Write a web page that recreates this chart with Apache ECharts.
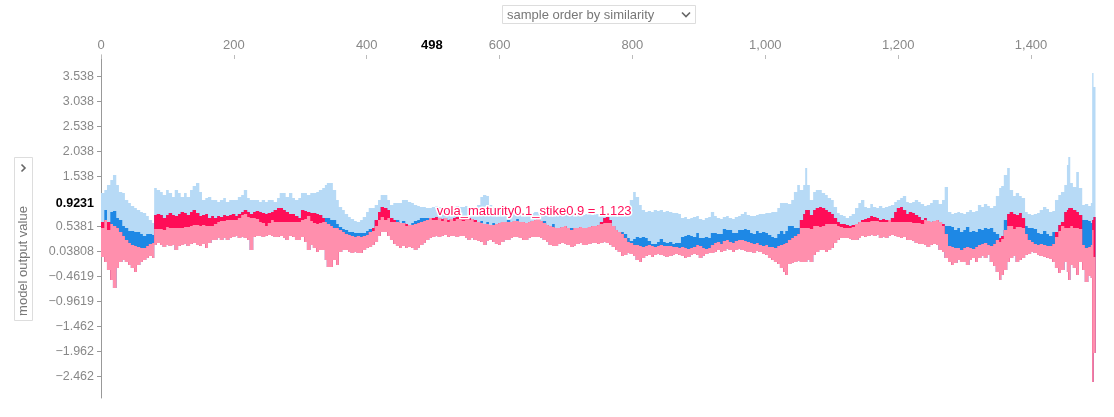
<!DOCTYPE html>
<html><head><meta charset="utf-8">
<script src="https://cdn.jsdelivr.net/npm/echarts@6/dist/echarts.min.js"></script>
<style>html,body{margin:0;padding:0;background:#fff}#c{width:1114px;height:417px}</style>
</head><body><div id="c"></div>
<script>
// sample index (x) of each reading
const sampleIdx = [0,5,9,14,18,23,27,32,36,41,45,50,54,59,63,68,72,77,
80,84,89,93,98,102,107,111,116,120,125,129,134,138,143,148,152,157,161,166,170,175,179,184,188,193,197,202,206,211,215,220,224,229,233,238,242,247,251,256,260,265,269,274,278,283,288,292,297,
301,306,310,315,319,324,328,333,337,340,345,349,354,358,363,367,372,376,381,385,390,394,399,403,408,412,417,421,426,431,435,440,444,449,453,458,462,467,471,476,480,485,489,494,498,
503,507,512,516,521,525,530,534,539,543,548,552,557,561,566,571,575,580,584,589,593,598,602,607,611,616,620,625,629,634,638,643,647,652,656,661,665,670,674,679,683,688,692,697,701,706,711,715,720,724,729,733,738,742,747,751,756,760,765,769,774,778,783,787,792,796,801,805,810,814,819,823,828,832,837,841,846,850,855,860,864,869,
873,878,882,887,891,896,900,905,909,914,918,923,927,932,936,941,945,950,954,959,963,968,972,977,981,986,990,995,1000,1004,1009,1013,1018,1022,1027,1030,1034,1039,1043,1048,1052,1057,1060,1063,1067,1072,1076,1081,1085,1090,1094,1099,1103,1108,1112,1117,1121,1126,1130,1135,1140,1144,1149,1153,1158,1162,1167,1171,1176,1180,1185,1189,1194,1198,1203,1207,1212,1216,1221,1225,1230,1234,1239,1243,1248,1252,1257,1261,1266,1270,1275,1280,1284,1289,1293,
1298,1302,1307,1311,1316,1320,1325,1329,1334,1338,1343,1347,1352,1355,1359,1364,1368,1373,1377,1382,1386,1391,1395,1400,1404,1409,1413,1418,1423,1427,1432,1436,1441,1445,1450,1454,1456,1459,1463,1468,1472,1477,1481,1486,1490,1492,1494,1497];

// top of the negative (blue) stack
const upperVals = [1.21,1.27,1.37,1.47,1.57,1.37,1.23,1.21,1.07,1.01,0.95,0.91,0.87,0.83,0.81,0.75,0.67,0.61,
1.31,1.27,1.23,1.17,1.27,1.21,1.13,1.27,1.21,1.13,1.21,1.13,1.27,1.35,1.41,1.23,1.07,1.11,1.13,1.07,1.07,1.03,1.07,1.11,1.03,1.07,1.07,1.07,1.13,1.17,1.27,1.11,1.07,1.07,1.07,1.03,1.07,1.03,1.07,1.07,1.03,1.11,1.21,1.21,1.13,1.21,1.11,1.07,1.11,
1.21,1.21,1.17,1.21,1.21,1.23,1.27,1.31,1.37,1.41,1.41,1.27,1.07,0.93,0.87,0.79,0.73,0.69,0.65,0.63,0.67,0.73,0.83,0.91,0.91,0.97,1.07,1.17,1.17,1.07,0.97,1.01,1.01,1.01,1.07,1.07,1.03,1.01,0.97,0.95,0.93,0.93,0.91,0.91,0.93,
0.95,0.93,0.91,0.93,0.91,0.91,0.93,0.95,0.93,0.93,0.95,0.93,0.93,0.93,0.97,1.13,1.17,1.15,0.97,0.93,0.91,0.91,0.91,0.91,0.87,0.87,0.87,0.83,0.83,0.81,0.81,0.81,0.81,0.83,0.83,0.81,0.79,0.79,0.79,0.77,0.77,0.79,0.79,0.79,0.77,0.79,0.79,0.77,0.77,0.77,0.79,0.79,0.77,0.79,0.79,0.79,0.79,0.79,0.77,0.77,0.75,0.75,0.77,0.83,0.97,1.07,1.23,1.13,0.97,0.87,0.83,0.85,0.83,0.87,0.85,0.87,0.83,0.85,0.83,0.81,0.81,0.79,
0.71,0.73,0.69,0.71,0.73,0.75,0.69,0.67,0.71,0.73,0.83,0.75,0.71,0.69,0.73,0.75,0.71,0.69,0.73,0.75,0.79,0.83,0.77,0.75,0.75,0.77,0.79,0.79,0.81,0.81,0.83,0.83,0.91,1.01,1.01,1.01,0.99,1.07,1.23,1.37,1.27,1.37,1.71,1.37,1.07,1.23,1.27,1.27,1.21,1.17,1.11,1.07,0.93,0.81,0.77,0.75,0.71,0.75,0.79,0.91,1.01,1.07,0.93,0.91,0.99,0.93,0.91,0.95,0.91,0.93,0.95,0.97,1.03,1.07,1.11,1.15,1.03,1.01,1.03,1.07,1.03,0.99,0.95,0.97,1.01,1.07,1.07,0.99,1.07,1.33,0.83,0.79,0.81,0.83,0.81,
0.79,0.83,0.87,0.83,0.85,0.97,0.93,0.99,0.95,0.91,0.95,1.15,1.31,1.35,1.57,1.71,1.27,1.15,1.21,1.15,1.11,0.83,0.79,0.77,0.79,0.81,0.87,0.93,0.89,0.83,0.85,1.07,1.17,1.23,1.37,1.77,1.93,1.41,1.33,1.63,1.31,0.97,0.99,0.95,1.01,3.61,3.33,3.27];

// model output value (boundary between red and blue)
const outputVals = [0.63,0.67,0.63,0.59,0.55,0.51,0.43,0.35,0.27,0.21,0.17,0.15,0.13,0.11,0.11,0.15,0.19,0.21,
0.77,0.79,0.77,0.71,0.77,0.81,0.77,0.75,0.79,0.83,0.81,0.77,0.83,0.87,0.81,0.75,0.77,0.79,0.71,0.75,0.71,0.75,0.73,0.77,0.75,0.77,0.79,0.75,0.79,0.83,0.87,0.83,0.79,0.83,0.85,0.83,0.81,0.79,0.81,0.83,0.87,0.91,0.91,0.87,0.83,0.79,0.79,0.75,0.71,
0.87,0.85,0.83,0.81,0.81,0.79,0.77,0.71,0.63,0.59,0.55,0.51,0.51,0.47,0.43,0.39,0.37,0.35,0.33,0.35,0.33,0.35,0.37,0.43,0.51,0.67,0.83,0.93,0.91,0.87,0.71,0.67,0.63,0.61,0.61,0.59,0.57,0.57,0.59,0.61,0.63,0.65,0.67,0.71,0.71,
0.73,0.71,0.69,0.71,0.67,0.69,0.71,0.73,0.75,0.75,0.73,0.71,0.69,0.67,0.63,0.61,0.59,0.59,0.57,0.57,0.59,0.61,0.63,0.63,0.63,0.63,0.65,0.65,0.63,0.63,0.61,0.63,0.65,0.67,0.69,0.65,0.61,0.57,0.55,0.53,0.51,0.51,0.53,0.55,0.51,0.47,0.51,0.51,0.53,0.51,0.51,0.53,0.55,0.55,0.57,0.63,0.71,0.73,0.67,0.55,0.47,0.43,0.39,0.31,0.23,0.21,0.17,0.17,0.15,0.13,0.15,0.17,0.15,0.13,0.15,0.17,0.15,0.15,0.15,0.13,0.13,0.11,
0.13,0.11,0.09,0.11,0.13,0.17,0.15,0.11,0.09,0.11,0.17,0.21,0.23,0.19,0.25,0.27,0.23,0.21,0.25,0.27,0.27,0.25,0.23,0.21,0.19,0.21,0.17,0.15,0.17,0.13,0.13,0.11,0.15,0.17,0.19,0.21,0.27,0.31,0.35,0.39,0.67,0.79,0.87,0.87,0.77,0.87,0.91,0.93,0.91,0.87,0.83,0.79,0.71,0.63,0.59,0.59,0.57,0.55,0.57,0.59,0.63,0.67,0.69,0.71,0.75,0.73,0.71,0.67,0.69,0.67,0.67,0.71,0.83,0.91,0.93,0.87,0.79,0.83,0.81,0.77,0.73,0.67,0.71,0.65,0.63,0.65,0.67,0.63,0.59,0.39,0.15,0.13,0.11,0.11,0.07,
0.11,0.13,0.11,0.09,0.13,0.17,0.19,0.21,0.17,0.15,0.19,0.27,0.31,0.35,0.47,0.79,0.83,0.79,0.77,0.81,0.71,0.39,0.27,0.23,0.19,0.17,0.19,0.17,0.15,0.15,0.19,0.43,0.57,0.63,0.83,0.87,0.91,0.91,0.87,0.83,0.77,0.17,0.11,0.13,0.17,0.67,0.73,0.71];

// SHAP value of the highlighted feature (positive = red, negative = dark blue)
const highlightVals = [0.12,-0.20,0.16,-0.24,-0.30,-0.20,-0.24,-0.20,-0.24,-0.24,-0.28,-0.28,-0.30,-0.28,-0.24,-0.24,-0.20,-0.16,
0.28,0.30,0.28,0.24,0.24,0.30,0.26,0.24,0.28,0.32,0.28,0.24,0.28,0.30,0.24,0.20,0.20,0.24,0.16,0.20,0.12,0.12,0.08,0.12,0.08,0.10,0.12,0.08,0.08,0.06,0.08,0.10,0.08,0.12,0.16,0.20,0.20,0.24,0.20,0.16,0.24,0.28,0.28,0.24,0.20,0.16,0.16,0.12,0.08,
0.20,0.16,0.08,0.16,0.20,0.20,0.16,0.08,-0.08,-0.12,-0.12,-0.16,-0.08,-0.06,-0.06,-0.08,-0.06,-0.08,-0.08,-0.06,-0.08,-0.06,-0.08,-0.06,0.06,0.12,0.16,0.20,0.24,0.16,0.08,0.04,-0.04,0,-0.04,0.04,0,-0.04,-0.06,-0.06,-0.08,-0.06,-0.04,0,0.04,
0.06,0,0.04,0,0.04,0,0.06,0.04,0.08,0.10,0.06,0.04,0,0.04,0,-0.04,0,-0.04,0,-0.04,0,0,0,0,-0.04,0,0,-0.04,0,0,0,0,0,0,0,0,-0.04,0,0,-0.06,0,0,0,0,0,-0.04,0,0,0,0,0,0,0,0,0,0.04,0.10,0.12,0.06,0,0,0,-0.04,-0.08,-0.08,-0.04,-0.12,-0.16,-0.16,-0.20,-0.16,-0.08,-0.04,-0.06,-0.08,-0.12,-0.08,-0.06,-0.08,-0.06,-0.08,-0.10,
-0.20,-0.24,-0.28,-0.24,-0.20,-0.24,-0.16,-0.20,-0.24,-0.20,-0.24,-0.20,-0.16,-0.20,-0.24,-0.20,-0.24,-0.20,-0.16,-0.20,-0.20,-0.24,-0.24,-0.20,-0.20,-0.24,-0.24,-0.28,-0.24,-0.24,-0.20,-0.20,-0.24,-0.28,-0.20,-0.24,-0.28,-0.24,-0.16,-0.12,0.16,0.28,0.36,0.36,0.28,0.32,0.36,0.40,0.36,0.28,0.24,0.20,0.12,0.08,0.06,0.08,0.06,0.04,0.04,0,0,0.04,0.06,0.08,0.10,0.08,0.06,0.04,0.06,0.04,0,0.08,0.20,0.28,0.30,0.24,0.16,0.20,0.20,0.16,0.12,0.08,0.04,0,0,0,0,0,0.04,-0.16,-0.40,-0.40,-0.36,-0.40,-0.36,
-0.36,-0.40,-0.32,-0.36,-0.30,-0.32,-0.28,-0.30,-0.32,-0.36,-0.24,-0.12,0.08,0.06,-0.20,0.24,0.28,0.30,0.24,0.28,0.20,-0.16,-0.24,-0.28,-0.30,-0.24,-0.20,-0.28,-0.24,-0.20,-0.24,0.10,0.12,0.08,0.32,0.36,0.40,0.36,0.36,0.32,0.28,-0.50,-0.56,-0.52,-0.44,0.20,0.80,0.76];

// bottom of the positive (red) stack
const lowerVals = [-0.07,-0.17,-0.33,-0.53,-0.69,-0.29,-0.17,-0.13,-0.17,-0.23,-0.29,-0.37,-0.23,-0.17,-0.13,-0.09,-0.05,-0.09,
0.17,0.21,0.17,0.13,0.17,0.15,0.17,0.07,0.15,0.17,0.19,0.15,0.19,0.21,0.17,0.15,0.19,0.11,0.21,0.27,0.27,0.31,0.27,0.31,0.27,0.31,0.33,0.35,0.31,0.33,0.31,0.27,0.07,0.33,0.35,0.35,0.33,0.35,0.37,0.35,0.33,0.33,0.35,0.31,0.27,0.35,0.33,0.27,0.27,
0.33,0.23,0.07,0.17,0.11,0.03,0.07,0.07,-0.13,-0.27,-0.27,-0.13,-0.23,0.03,0.07,0.07,0.03,0.01,0.03,0.01,0.01,0.07,0.11,0.13,0.17,0.23,0.35,0.43,0.43,0.35,0.27,0.19,0.15,0.11,0.15,0.11,0.13,0.11,0.07,0.11,0.17,0.21,0.27,0.31,0.33,
0.35,0.33,0.35,0.37,0.33,0.35,0.35,0.33,0.35,0.35,0.31,0.27,0.31,0.27,0.25,0.23,0.17,0.25,0.27,0.23,0.19,0.17,0.23,0.27,0.27,0.31,0.33,0.33,0.31,0.27,0.27,0.31,0.33,0.33,0.33,0.31,0.27,0.23,0.17,0.15,0.15,0.19,0.21,0.19,0.17,0.13,0.15,0.19,0.21,0.17,0.17,0.19,0.21,0.21,0.19,0.21,0.23,0.21,0.17,0.13,0.07,0.03,-0.05,-0.03,0.01,-0.01,-0.05,-0.13,-0.17,-0.09,-0.05,-0.03,-0.07,-0.03,-0.01,-0.03,-0.05,-0.07,-0.05,-0.03,-0.01,-0.03,
-0.05,-0.09,-0.07,-0.03,-0.01,-0.03,-0.09,-0.05,-0.01,0.01,0.01,0.03,0.07,0.03,0.05,0.09,0.07,0.03,0.07,0.09,0.07,0.05,0.03,0.03,0.01,0.05,0.03,-0.01,-0.03,-0.09,-0.13,-0.17,-0.21,-0.29,-0.37,-0.43,-0.21,-0.19,-0.17,-0.15,-0.17,-0.17,-0.17,-0.13,-0.17,-0.03,0.03,0.07,0.07,0.03,0.07,0.11,0.21,0.27,0.31,0.31,0.31,0.29,0.27,0.27,0.31,0.35,0.33,0.35,0.37,0.35,0.37,0.31,0.33,0.31,0.35,0.37,0.35,0.33,0.31,0.33,0.27,0.27,0.25,0.21,0.19,0.19,0.17,0.13,0.17,0.19,0.17,0.07,0.03,-0.09,-0.17,-0.23,-0.19,-0.13,-0.17,
-0.17,-0.23,-0.13,-0.09,-0.17,-0.09,-0.05,-0.09,-0.03,-0.17,-0.25,-0.37,-0.53,-0.43,-0.33,-0.17,-0.09,-0.05,-0.17,-0.13,-0.09,-0.03,-0.01,0.03,0.01,-0.03,-0.05,-0.07,-0.09,-0.11,-0.17,-0.29,-0.39,-0.33,-0.17,-0.37,-0.53,-0.23,-0.29,-0.43,-0.17,-0.33,-0.57,-0.45,-0.49,-2.57,-1.99,-1.93];

const xTickValues = [0,200,400,600,800,1000,1200,1400];
const yTickValues = [3.538,3.038,2.538,2.038,1.538,0.5381,0.03808,-0.4619,-0.9619,-1.462,-1.962,-2.462];
const yTickLabels = ['3.538','3.038','2.538','2.038','1.538','0.5381','0.03808','\u22120.4619','\u22120.9619','\u22121.462','\u22121.962','\u22122.462'];
const hoverSample = 498;
const hoverValue = 0.9231;
const hoverValueLabel = '0.9231';
const featureLabel = 'vola_maturity0.1_stike0.9 = 1.123';
const featureLabelValue = 0.86;
const xMin = 0, xMax = 1497, yMin = -2.888, yMax = 3.972;

const FONT = '"Liberation Sans", Arial, Helvetica, sans-serif';
const C_PINK = '#ff8fad', C_RED = '#ff0d57', C_DBLUE = '#1e88e5', C_LBLUE = '#b7daf6';

const n = Math.min(sampleIdx.length, upperVals.length, outputVals.length, highlightVals.length, lowerVals.length);

// cumulative layer tops (each layer polygon runs from lowerVals up to its top; drawn back-to-front)
const topPink = [], topRed = [], topDBlue = [], topLBlue = [];
for (let i = 0; i < n; i++) {
  const h = highlightVals[i], f = outputVals[i];
  const pos = Math.max(0, h), neg = Math.max(0, -h);
  topPink.push(Math.max(lowerVals[i], f - pos));
  topRed.push(f);
  topDBlue.push(f + neg);
  topLBlue.push(Math.max(f + neg, upperVals[i]));
}
const layerTops = [topPink, topRed, topDBlue, topLBlue];
const layerColors = [C_PINK, C_RED, C_DBLUE, C_LBLUE];

function renderLayer(params, api) {
  const k = api.value(2);
  const tops = layerTops[k];
  const upper = [], lower = [];
  for (let i = 0; i < n - 1; i++) {
    const xa = api.coord([sampleIdx[i], 0])[0];
    const xb = api.coord([sampleIdx[i + 1], 0])[0];
    const yt = api.coord([0, tops[i]])[1];
    const yb = api.coord([0, lowerVals[i]])[1];
    upper.push([xa, yt], [xb, yt]);
    lower.push([xa, yb], [xb, yb]);
  }
  const pts = upper.concat(lower.reverse());
  return { type: 'polygon', shape: { points: pts }, style: { fill: layerColors[k] } };
}

const chart = echarts.init(document.getElementById('c'), null, { renderer: 'canvas' });
chart.setOption({
  animation: false,
  backgroundColor: '#fff',
  grid: { left: 101, top: 55, right: 18.5, bottom: 19, containLabel: false },
  xAxis: {
    type: 'value', position: 'top', min: xMin, max: xMax,
    axisLine: { show: false, onZero: false },
    axisTick: { show: true, inside: true, length: 4, customValues: xTickValues, lineStyle: { color: '#bbb' } },
    axisLabel: { customValues: xTickValues, color: '#888', fontSize: 13, fontFamily: FONT, margin: 3,
      formatter: v => Number(v).toLocaleString('en-US') },
    splitLine: { show: false }
  },
  yAxis: {
    type: 'value', min: yMin, max: yMax,
    axisLine: { show: true, onZero: false, lineStyle: { color: '#999' } },
    axisTick: { show: true, length: 4, customValues: yTickValues, lineStyle: { color: '#999' } },
    axisLabel: { customValues: yTickValues, color: '#888', fontSize: 12.5, fontFamily: FONT, margin: 7,
      formatter: v => {
        let best = 0, bd = Infinity;
        yTickValues.forEach((t, i) => { const d = Math.abs(t - v); if (d < bd) { bd = d; best = i; } });
        return yTickLabels[best];
      } },
    splitLine: { show: false }
  },
  series: [{
    type: 'custom', name: 'force', renderItem: renderLayer,
    // one item per layer, back to front: light blue, dark blue, red, pink
    data: [[0, 0, 3], [0, 0, 2], [0, 0, 1], [0, 0, 0]],
    encode: { x: 0, y: 1 }, silent: true, animation: false, clip: false, z: 2
  }]
});

const pH = chart.convertToPixel({ gridIndex: 0 }, [hoverSample, hoverValue]);
const pL = chart.convertToPixel({ gridIndex: 0 }, [hoverSample, featureLabelValue]);

chart.setOption({ graphic: [
  // top dropdown
  { type: 'rect', shape: { x: 502.5, y: 5.5, width: 193, height: 18 }, style: { fill: '#fff', stroke: '#ddd', lineWidth: 1 }, z: 10 },
  { type: 'text', x: 507, y: 15, style: { text: 'sample order by similarity', fill: '#777', fontSize: 13, fontFamily: FONT, verticalAlign: 'middle', align: 'left' }, z: 11 },
  { type: 'polyline', shape: { points: [[682, 12.5], [686, 16.5], [690, 12.5]] }, style: { stroke: '#666', lineWidth: 1.6, fill: null }, z: 11 },
  // left y-axis label box
  { type: 'rect', shape: { x: 14.5, y: 157.5, width: 18, height: 163 }, style: { fill: '#fff', stroke: '#ddd', lineWidth: 1 }, z: 10 },
  { type: 'text', x: 23.5, y: 261, rotation: Math.PI / 2, style: { text: 'model output value', fill: '#777', fontSize: 13, fontFamily: FONT, align: 'center', verticalAlign: 'middle' }, z: 11 },
  { type: 'polyline', shape: { points: [[21.5, 164.5], [25, 168], [21.5, 171.5]] }, style: { stroke: '#666', lineWidth: 1.6, fill: null }, z: 11 },
  // hover x label
  { type: 'text', x: pH[0], y: 45, style: { text: String(hoverSample), fill: '#000', fontSize: 13, fontWeight: 'bold', fontFamily: FONT, align: 'center', verticalAlign: 'middle' }, z: 11 },
  // hover y label
  { type: 'text', x: 94, y: pH[1] - 4, style: { text: hoverValueLabel, fill: '#000', fontSize: 12.5, fontWeight: 'bold', fontFamily: FONT, align: 'right', verticalAlign: 'middle' }, z: 11 },
  // feature label (halo + text)
  { type: 'text', x: pL[0] + 5, y: pL[1] + 1, style: { text: featureLabel, fill: '#fff', stroke: '#fff', lineWidth: 3, fontSize: 13, fontFamily: FONT, align: 'left', verticalAlign: 'middle' }, z: 11 },
  { type: 'text', x: pL[0] + 5, y: pL[1] + 1, style: { text: featureLabel, fill: C_RED, fontSize: 13, fontFamily: FONT, align: 'left', verticalAlign: 'middle' }, z: 12 }
]});
</script>
</body></html>
